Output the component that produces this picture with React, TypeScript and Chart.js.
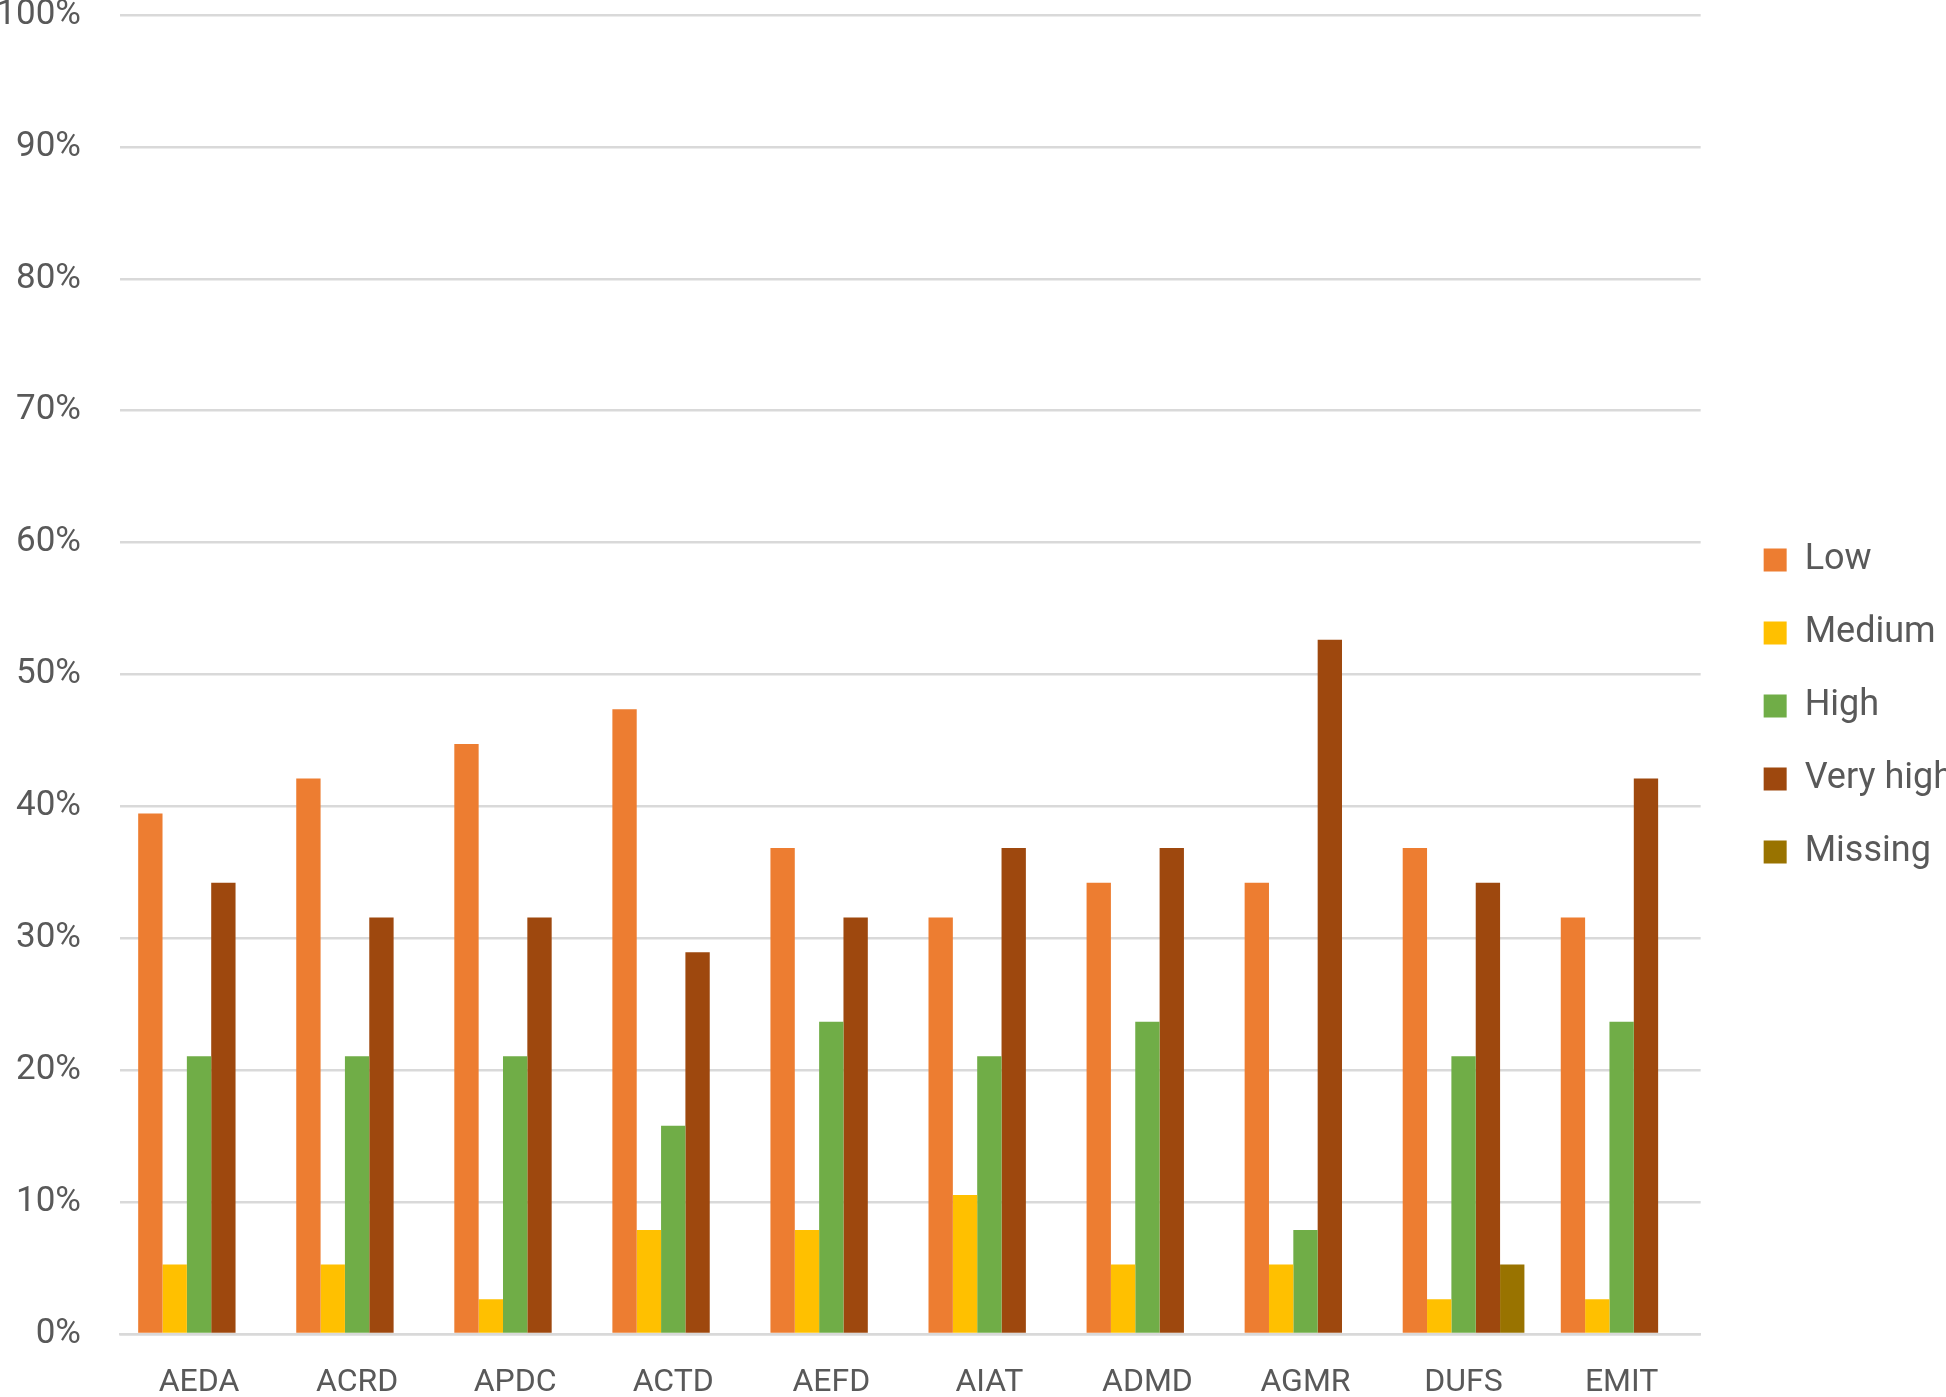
import React, { useEffect, useRef } from "react";
import { Chart, registerables } from "chart.js";

Chart.register(...registerables);

const categories = ["AEDA", "ACRD", "APDC", "ACTD", "AEFD", "AIAT", "ADMD", "AGMR", "DUFS", "EMIT"];
const lowValues = [39.47, 42.11, 44.74, 47.37, 36.84, 31.58, 34.21, 34.21, 36.84, 31.58];
const mediumValues = [5.26, 5.26, 2.63, 7.89, 7.89, 10.53, 5.26, 5.26, 2.63, 2.63];
const highValues = [21.05, 21.05, 21.05, 15.79, 23.68, 21.05, 23.68, 7.89, 21.05, 23.68];
const veryHighValues = [34.21, 31.58, 31.58, 28.95, 31.58, 36.84, 36.84, 52.63, 34.21, 42.11];
const missingValues = [0, 0, 0, 0, 0, 0, 0, 0, 5.26, 0];
const seriesNames = ["Low", "Medium", "High", "Very high", "Missing"];
const seriesColors = ["#ED7D31", "#FFC000", "#70AD47", "#9E480E", "#997300"];
const yTicks = [0, 10, 20, 30, 40, 50, 60, 70, 80, 90, 100];

const CANVAS_W = 1963;
const CANVAS_H = 1427;
const TEXT = "#595959";
const GRID = "#D9D9D9";
const FONT = "Roboto, 'Liberation Sans', Arial, sans-serif";

export default function App() {
  const ref = useRef<HTMLCanvasElement | null>(null);

  useEffect(() => {
    if (!ref.current) return;
    const series = [lowValues, mediumValues, highValues, veryHighValues, missingValues];
    const chart = new Chart(ref.current, {
      type: "bar",
      data: {
        labels: categories,
        datasets: series.map((d, i) => ({
          label: seriesNames[i],
          data: d,
          backgroundColor: seriesColors[i],
          borderWidth: 0,
          categoryPercentage: 0.77,
          barPercentage: 1.0,
        })),
      },
      options: {
        responsive: false,
        animation: false,
        devicePixelRatio: 1,
        layout: { padding: { top: 45, left: 0, right: 0, bottom: 0 } },
        plugins: {
          tooltip: { enabled: false },
          legend: {
            position: "right",
            align: "center",
            labels: {
              boxWidth: 23,
              boxHeight: 23,
              padding: 37,
              color: TEXT,
              font: { family: FONT, size: 36 },
            },
          },
        },
        scales: {
          x: {
            grid: { display: false, drawTicks: false },
            border: { display: true, color: GRID, width: 2.5 },
            ticks: { color: TEXT, font: { family: FONT, size: 32 }, padding: 30, maxRotation: 0, autoSkip: false },
            afterFit: (s: any) => {
              s.height = 63;
              s.paddingLeft = 0;
              s.paddingRight = 0;
            },
          },
          y: {
            min: 0,
            max: 100,
            afterBuildTicks: (s: any) => {
              s.ticks = yTicks.map((v) => ({ value: v }));
            },
            grid: { color: GRID, lineWidth: 2.5, drawTicks: false },
            border: { display: false },
            ticks: {
              color: TEXT,
              font: { family: FONT, size: 35 },
              padding: 39,
              callback: (v: any) => `${v}%`,
            },
            afterFit: (s: any) => {
              s.width = 120;
              s.paddingTop = 0;
              s.paddingBottom = 0;
            },
          },
          yRight: {
            position: "right",
            display: true,
            grid: { display: false, drawTicks: false },
            border: { display: false },
            ticks: { display: false },
            afterFit: (s: any) => {
              s.width = 26;
              s.paddingTop = 0;
              s.paddingBottom = 0;
            },
          },
        },
      },
    } as any);
    return () => chart.destroy();
  }, []);

  return (
    <div
      style={{
        position: "fixed",
        left: 0,
        top: 0,
        width: 1946,
        height: 1397,
        overflow: "hidden",
        background: "#ffffff",
      }}
    >
      <div style={{ position: "absolute", left: 0, top: -30, width: CANVAS_W, height: CANVAS_H }}>
        <canvas ref={ref} width={CANVAS_W} height={CANVAS_H} style={{ display: "block" }} />
      </div>
    </div>
  );
}
